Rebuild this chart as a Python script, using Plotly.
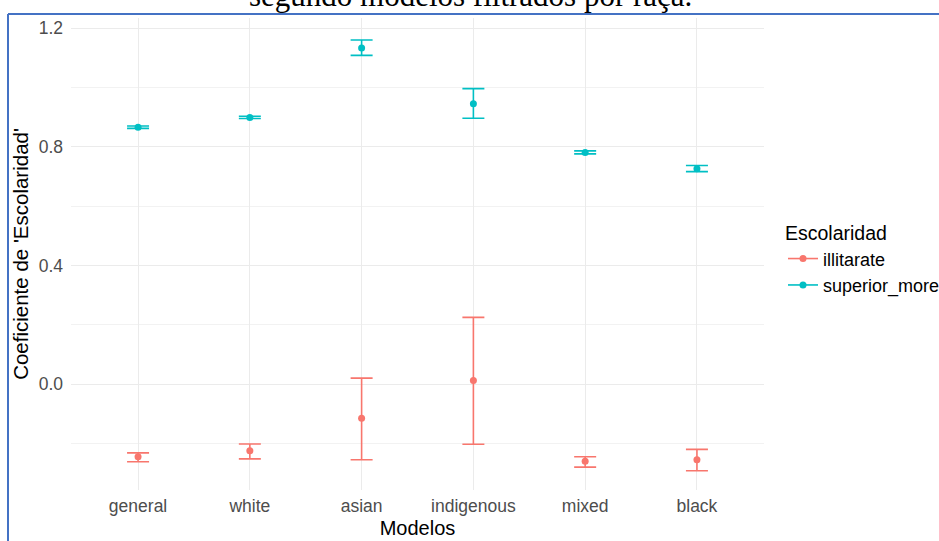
import plotly.graph_objects as go

modelos = ["general", "white", "asian", "indigenous", "mixed", "black"]

illit_est = [-0.245, -0.225, -0.115, 0.012, -0.260, -0.255]
illit_lo = [-0.262, -0.252, -0.255, -0.203, -0.280, -0.292]
illit_hi = [-0.232, -0.202, 0.020, 0.225, -0.245, -0.220]

sup_est = [0.866, 0.899, 1.133, 0.945, 0.781, 0.726]
sup_lo = [0.862, 0.895, 1.108, 0.896, 0.776, 0.716]
sup_hi = [0.870, 0.903, 1.160, 0.996, 0.786, 0.737]

series = [
    ("illitarate", "#F8766D", illit_est, illit_lo, illit_hi),
    ("superior_more", "#00BFC4", sup_est, sup_lo, sup_hi),
]

fig = go.Figure()
for name, color, est, lo, hi in series:
    fig.add_trace(go.Scatter(
        x=modelos, y=est, mode="markers", name=name, showlegend=False,
        marker=dict(color=color, size=7),
        error_y=dict(type="data", symmetric=False,
                     array=[h - e for h, e in zip(hi, est)],
                     arrayminus=[e - l for e, l in zip(est, lo)],
                     color=color, thickness=1.6, width=11),
    ))
for name, color, est, lo, hi in series:
    fig.add_trace(go.Scatter(
        x=[None], y=[None], mode="lines+markers", name=name,
        line=dict(color=color, width=1.6), marker=dict(color=color, size=7),
    ))

W, H = 939, 541
ml, mr, mt, mb = 71, 175, 18, 51
pw, ph = W - ml - mr, H - mt - mb

def px2x(px):
    return (px - ml) / pw

def py2y(py):
    return (H - mb - py) / ph

fig.update_layout(
    width=W, height=H,
    margin=dict(l=ml, r=mr, t=mt, b=mb, pad=0, autoexpand=False),
    paper_bgcolor="white", plot_bgcolor="white",
    font=dict(family="Liberation Sans, Arial, sans-serif", color="black"),
    xaxis=dict(
        range=[-0.6, 5.6], showgrid=True, gridcolor="#EBEBEB", gridwidth=1.2,
        zeroline=False, showline=False, ticks="",
        ticklabelstandoff=3,
        tickfont=dict(size=17.5, color="#4D4D4D"),
        title=dict(text="Modelos", font=dict(size=20, color="black"), standoff=6),
    ),
    yaxis=dict(
        range=[-0.357, 1.234], tickvals=[0.0, 0.4, 0.8, 1.2],
        ticktext=["0.0", "0.4", "0.8", "1.2"],
        showgrid=True, gridcolor="#EBEBEB", gridwidth=1.2,
        minor=dict(tickvals=[-0.2, 0.2, 0.6, 1.0], showgrid=True,
                   gridcolor="#F2F2F2", gridwidth=0.8),
        zeroline=False, showline=False, ticks="",
        ticklabelstandoff=7,
        tickfont=dict(size=17.5, color="#4D4D4D"),
        title=dict(text="Coeficiente de 'Escolaridad'", font=dict(size=20.5, color="black"), standoff=4),
    ),
    legend=dict(
        x=px2x(783), xanchor="left", y=py2y(215), yanchor="top",
        title=dict(text="Escolaridad", font=dict(size=19.5, color="black")),
        font=dict(size=18, color="black"),
        itemwidth=30, tracegroupgap=0,
        bgcolor="rgba(0,0,0,0)",
    ),
    shapes=[
        dict(type="line", xref="paper", yref="paper",
             x0=px2x(8), x1=px2x(8), y0=py2y(545), y1=py2y(14),
             line=dict(color="#4472C4", width=2)),
        dict(type="line", xref="paper", yref="paper",
             x0=px2x(8), x1=px2x(945), y0=py2y(14), y1=py2y(14),
             line=dict(color="#4472C4", width=2)),
    ],
    annotations=[
        dict(text="segundo modelos filtrados por raça.", xref="paper", yref="paper",
             x=px2x(471), xanchor="center", y=py2y(15), yanchor="bottom",
             showarrow=False,
             font=dict(family="Liberation Serif, Times New Roman, serif", size=31, color="black")),
    ],
)

fig.write_html("out.html")
